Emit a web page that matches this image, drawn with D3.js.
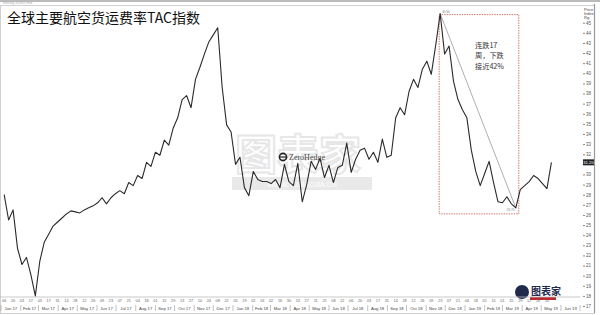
<!DOCTYPE html>
<html>
<head>
<meta charset="utf-8">
<script src="https://cdn.jsdelivr.net/npm/d3@7"></script>
<style>
  body { margin: 0; background: #fff; }
  svg { display: block; }
</style>
</head>
<body>
<div id="chart"></div>
<script>
// weekly TAC index, first week of Jan 2017 to mid May 2019
var startDate = new Date(2017, 0, 6);
var tacValues = [
  28.0, 25.5, 26.5, 22.7, 21.1, 21.8, 20.1, 18.0, 21.4, 23.3,
  24.1, 24.9, 25.3, 25.7, 26.1, 26.4, 26.3, 26.2, 26.5, 26.7,
  26.9, 27.2, 27.7, 27.1, 27.7, 28.1, 28.4, 28.1, 29.2, 28.9,
  29.9, 29.6, 31.2, 30.8, 32.2, 31.9, 33.4, 32.9, 34.6, 35.6,
  37.4, 37.8, 36.6, 39.4, 40.6, 41.9, 43.1, 43.8, 44.5, 38.6,
  34.9, 34.2, 31.0, 31.7, 28.7, 27.9, 30.3, 29.5, 29.3, 29.3,
  29.1, 29.5, 28.7, 31.0, 29.3, 28.9, 31.1, 27.3, 29.0, 31.3,
  30.5, 31.6, 29.7, 30.9, 29.2, 30.7, 30.9, 33.1, 30.2, 31.5,
  32.4, 32.6, 31.5, 32.2, 31.2, 33.5, 31.7, 31.9, 35.6, 36.6,
  35.9, 38.2, 39.4, 38.6, 40.4, 41.2, 39.9, 42.8, 45.9, 41.9,
  42.7, 39.2, 37.4, 36.4, 35.6, 32.4, 30.3, 28.9, 30.1, 31.3,
  29.2, 27.3, 27.2, 27.8, 27.1, 26.7, 28.5, 28.9, 29.3, 29.9,
  29.6, 29.1, 28.6, 31.2
];
var yTicks = [17, 18, 19, 20, 21, 22, 23, 24, 25, 26, 27, 28, 29, 30, 31,
  32, 33, 34, 35, 36, 37, 38, 39, 40, 41, 42, 43, 44, 45];
var monthLabels = ["Jan 17", "Feb 17", "Mar 17", "Apr 17", "May 17", "Jun 17",
  "Jul 17", "Aug 17", "Sep 17", "Oct 17", "Nov 17", "Dec 17",
  "Jan 18", "Feb 18", "Mar 18", "Apr 18", "May 18", "Jun 18",
  "Jul 18", "Aug 18", "Sep 18", "Oct 18", "Nov 18", "Dec 18",
  "Jan 19", "Feb 19", "Mar 19", "Apr 19", "May 19", "Jun 19"];
var titleText = "全球主要航空货运费率TAC指数";
var noteLines = ["连跌17", "周，下跌", "接近42%"];

var width = 600, height = 315;
var plotRight = 580, axisBottom = 297;

var data = tacValues.map(function (v, i) {
    return { date: d3.timeWeek.offset(startDate, i), value: v };
});
var last = data[data.length - 1];

var svg = d3.select("#chart").append("svg")
    .attr("width", width)
    .attr("height", height);

var x = d3.scaleTime()
    .domain([new Date(2017, 0, 1), new Date(2019, 6, 1)])
    .range([1, plotRight]);
var y = d3.scaleLinear()
    .domain([17, 45])
    .range([306, 22.7]);

// frame
svg.append("line").attr("x1", 0).attr("x2", width).attr("y1", 1).attr("y2", 1)
    .attr("stroke", "#bbb").attr("stroke-width", 2);
svg.append("text").attr("x", 3).attr("y", 4).attr("font-size", 3)
    .attr("fill", "#aaa").attr("font-family", "Liberation Sans").text("Running 3d 8803 Rnd");
svg.append("rect").attr("x", 0.5).attr("y", 5.5).attr("width", 594).attr("height", 308)
    .attr("fill", "none").attr("stroke", "#d0d0d0").attr("stroke-width", 1);
svg.append("line").attr("x1", 594.5).attr("x2", 594.5).attr("y1", 4).attr("y2", 313)
    .attr("stroke", "#999").attr("stroke-width", 1.2);

// watermark
var wm = svg.append("g").attr("opacity", 0.55);
wm.append("text").attr("x", 298).attr("y", 170).attr("text-anchor", "middle")
    .attr("font-family", "Noto Sans CJK SC").attr("font-size", 42).attr("font-weight", "bold")
    .attr("fill", "none").attr("stroke", "#d4d4d4").attr("stroke-width", 2)
    .text("图表家");
wm.append("rect").attr("x", 232).attr("y", 177).attr("width", 140).attr("height", 13)
    .attr("fill", "#d8d8d8");
wm.append("text").attr("x", 302).attr("y", 186.5).attr("text-anchor", "middle")
    .attr("font-family", "Liberation Sans").attr("font-size", 7).attr("fill", "#fff")
    .text("WWW.TUBIAOJIA.CN");

// ZeroHedge mark
svg.append("circle").attr("cx", 283).attr("cy", 157).attr("r", 3.6)
    .attr("fill", "none").attr("stroke", "#222").attr("stroke-width", 1.6);
svg.append("line").attr("x1", 279.5).attr("x2", 286.5).attr("y1", 157).attr("y2", 157)
    .attr("stroke", "#222").attr("stroke-width", 1.2);
svg.append("text").attr("x", 289).attr("y", 160).attr("font-family", "Liberation Serif")
    .attr("font-size", 8).attr("fill", "#444").text("ZeroHedge");

// bottom-right logo
var logo = svg.append("g");
logo.append("circle").attr("cx", 522).attr("cy", 292).attr("r", 7).attr("fill", "#1f2a4d");
logo.append("text").attr("x", 531).attr("y", 295).attr("font-family", "Noto Sans CJK SC")
    .attr("font-size", 10).attr("font-weight", "bold").attr("fill", "#1f2a4d").text("图表家");
logo.append("rect").attr("x", 530).attr("y", 297).attr("width", 26).attr("height", 3)
    .attr("fill", "#c0282d");

// title
svg.append("text").attr("x", 7).attr("y", 23)
    .attr("font-family", "Noto Sans CJK SC").attr("font-size", 14)
    .attr("fill", "#111").text(titleText);

// right axis, the tick under the last-value box is left out
var yAxis = d3.axisRight(y)
    .tickValues(yTicks.filter(function (t) { return Math.abs(t - last.value) > 0.6; }))
    .tickSize(2).tickPadding(1)
    .tickFormat(d3.format("d"));
var yg = svg.append("g").attr("transform", "translate(" + (plotRight + 3) + ",0)").call(yAxis);
yg.select(".domain").remove();
yg.selectAll("text").attr("font-size", 4.5).attr("fill", "#555")
    .attr("font-family", "Liberation Sans");
yg.selectAll("line").attr("stroke", "#888");
svg.append("text").attr("x", 584).attr("y", 11).attr("font-size", 4).attr("fill", "#444")
    .attr("font-family", "Liberation Sans").text("Price");
svg.append("text").attr("x", 584).attr("y", 15).attr("font-size", 4).attr("fill", "#444")
    .attr("font-family", "Liberation Sans").text("Index");
svg.append("text").attr("x", 584).attr("y", 19).attr("font-size", 4).attr("fill", "#444")
    .attr("font-family", "Liberation Sans").text("Rg");

// last value box
svg.append("rect").attr("x", 583).attr("y", y(last.value) - 3).attr("width", 11).attr("height", 6)
    .attr("fill", "#222");
svg.append("text").attr("x", 588.5).attr("y", y(last.value) + 1.6).attr("text-anchor", "middle")
    .attr("font-size", 4.2).attr("fill", "#fff").attr("font-family", "Liberation Sans")
    .text(last.value.toFixed(2));

// bottom axis
svg.append("line").attr("x1", 0).attr("x2", plotRight).attr("y1", axisBottom).attr("y2", axisBottom)
    .attr("stroke", "#bbb").attr("stroke-width", 0.8);
var dayTicks = data.filter(function (d, i) { return i % 2 === 0; });
svg.append("g").selectAll("text").data(dayTicks).enter().append("text")
    .attr("x", function (d) { return x(d.date); })
    .attr("y", 302)
    .attr("text-anchor", "middle")
    .attr("font-size", 3.8).attr("fill", "#666").attr("font-family", "Liberation Sans")
    .text(function (d) { return d3.timeFormat("%d")(d.date); });
var monthStarts = monthLabels.map(function (m, i) { return new Date(2017, i, 1); });
svg.append("g").selectAll("line").data(monthStarts.concat([new Date(2019, 6, 1)])).enter().append("line")
    .attr("x1", function (d) { return x(d); })
    .attr("x2", function (d) { return x(d); })
    .attr("y1", 305).attr("y2", 311)
    .attr("stroke", "#999").attr("stroke-width", 0.6);
svg.append("g").selectAll("text").data(monthLabels).enter().append("text")
    .attr("x", function (d, i) {
        return (x(monthStarts[i]) + x(new Date(2017, i + 1, 1))) / 2;
    })
    .attr("y", 310)
    .attr("text-anchor", "middle")
    .attr("font-size", 4.2).attr("fill", "#444").attr("font-family", "Liberation Sans")
    .text(function (d) { return d; });

// highlight box and trend line
var peakIdx = 98, lowIdx = 115;
var peak = data[peakIdx], low = data[lowIdx];
svg.append("rect")
    .attr("x", x(peak.date) - 1)
    .attr("y", y(peak.value) + 1)
    .attr("width", x(low.date) - x(peak.date) + 4)
    .attr("height", y(low.value) - y(peak.value) + 5)
    .attr("fill", "none")
    .attr("stroke", "#cf7a72")
    .attr("stroke-width", 1)
    .attr("stroke-dasharray", "1.5,1");
svg.append("line")
    .attr("x1", x(peak.date)).attr("y1", y(peak.value))
    .attr("x2", x(low.date)).attr("y2", y(low.value))
    .attr("stroke", "#999").attr("stroke-width", 0.8);
svg.append("text").attr("x", x(peak.date) + 2).attr("y", y(peak.value) - 1)
    .attr("font-size", 3).attr("fill", "#777").attr("font-family", "Liberation Sans")
    .text(peak.value.toFixed(2));
svg.append("text").attr("x", x(low.date) - 9).attr("y", y(low.value) + 3)
    .attr("font-size", 3).attr("fill", "#777").attr("font-family", "Liberation Sans")
    .text(low.value.toFixed(2));

svg.append("g").selectAll("text").data(noteLines).enter().append("text")
    .attr("x", 475)
    .attr("y", function (d, i) { return 47.5 + i * 10.5; })
    .attr("font-family", "Noto Sans CJK SC").attr("font-size", 7.2)
    .attr("fill", "#333")
    .text(function (d) { return d; });

// main line
var line = d3.line()
    .x(function (d) { return x(d.date); })
    .y(function (d) { return y(d.value); });
svg.append("path")
    .datum(data)
    .attr("d", line)
    .attr("fill", "none")
    .attr("stroke", "#2a2a2a")
    .attr("stroke-width", 1.1)
    .attr("stroke-linejoin", "round");
</script>
</body>
</html>
